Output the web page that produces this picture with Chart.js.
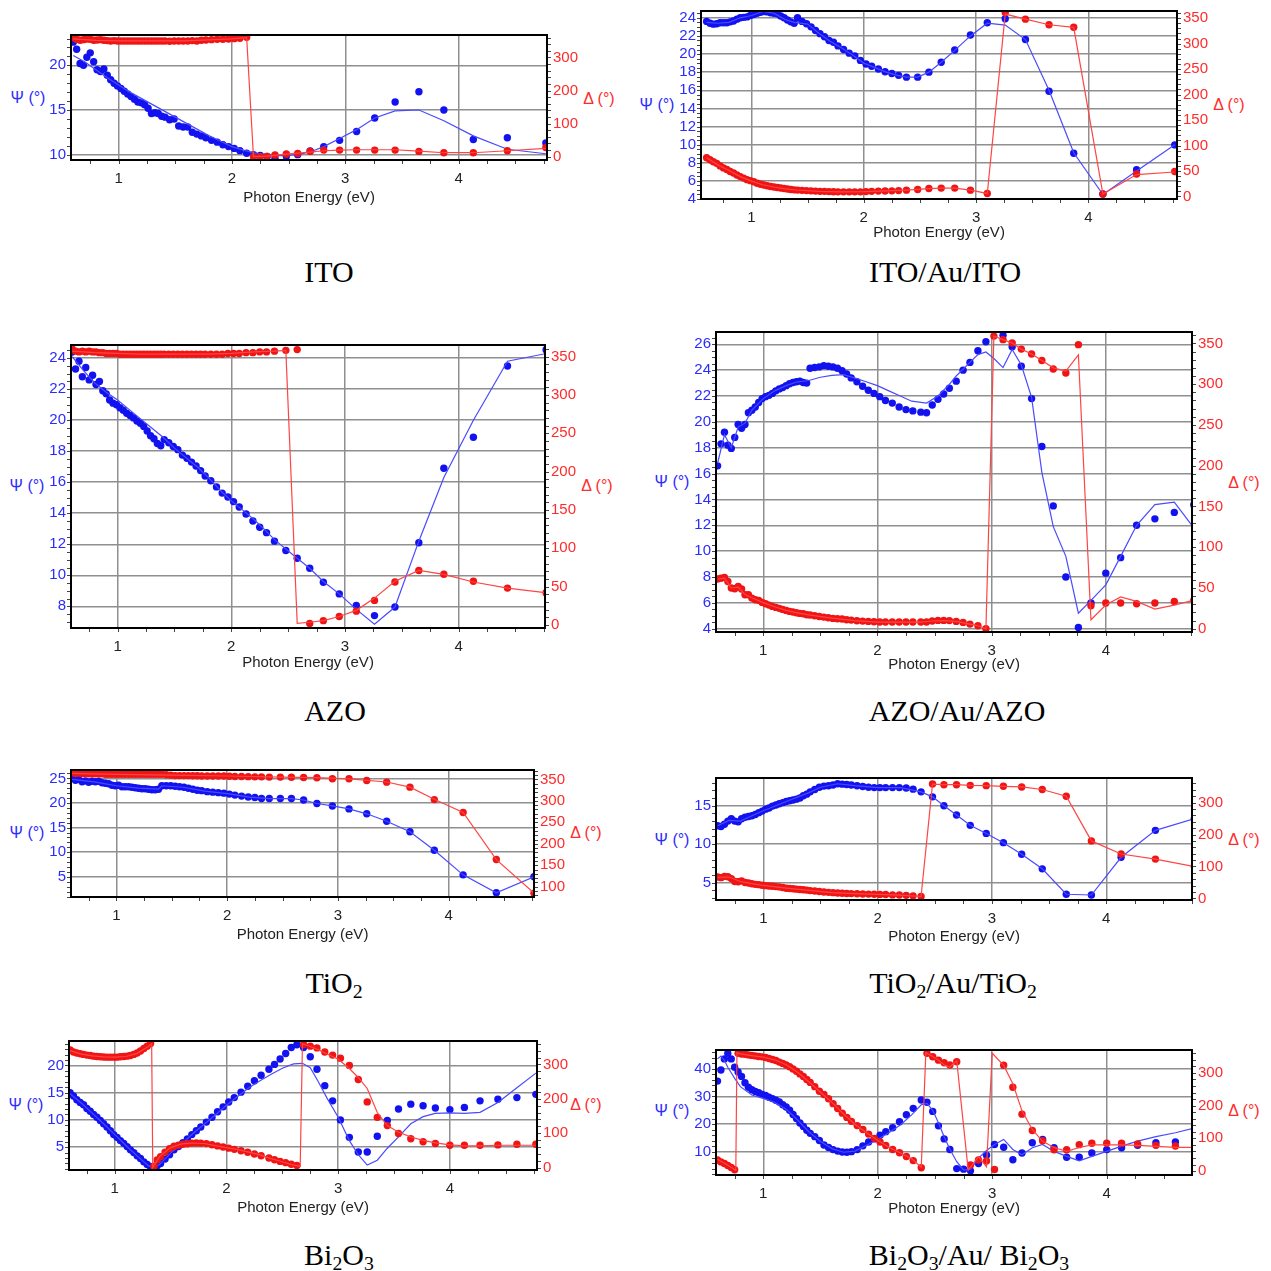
<!DOCTYPE html>
<html>
<head>
<meta charset="utf-8">
<script src="https://cdn.jsdelivr.net/npm/chart.js@4.4.1/dist/chart.umd.min.js"></script>
<style>
body { margin:0; background:#fff; width:1271px; height:1271px; position:relative; overflow:hidden; font-family:"Liberation Sans", Arial, sans-serif; }
canvas { position:absolute; }
.lbl { position:absolute; transform:translate(-50%,-50%); white-space:nowrap; line-height:1; }
.ax { font-size:16px; }
.psi { color:#2b2bff; }
.del { color:#ff2b2b; }
.ttl { font-family:"Liberation Serif", "Times New Roman", serif; font-size:30px; color:#000; }
.ttl sub { font-size:0.66em; line-height:0; vertical-align:-0.25em; }
</style>
</head>
<body>

<div class="lbl ax psi" style="left:28px;top:98px">Ψ (°)</div>
<div class="lbl ax del" style="left:599px;top:99px">Δ (°)</div>
<div class="lbl ttl" style="left:329px;top:272px">ITO</div>

<div class="lbl ax psi" style="left:657px;top:105px">Ψ (°)</div>
<div class="lbl ax del" style="left:1229px;top:105px">Δ (°)</div>
<div class="lbl ttl" style="left:945px;top:272px">ITO/Au/ITO</div>

<div class="lbl ax psi" style="left:27px;top:486px">Ψ (°)</div>
<div class="lbl ax del" style="left:597px;top:486px">Δ (°)</div>
<div class="lbl ttl" style="left:335px;top:711px">AZO</div>

<div class="lbl ax psi" style="left:672px;top:482px">Ψ (°)</div>
<div class="lbl ax del" style="left:1244px;top:483px">Δ (°)</div>
<div class="lbl ttl" style="left:957px;top:711px">AZO/Au/AZO</div>

<div class="lbl ax psi" style="left:27px;top:833px">Ψ (°)</div>
<div class="lbl ax del" style="left:586px;top:833px">Δ (°)</div>
<div class="lbl ttl" style="left:334px;top:983px">TiO<sub>2</sub></div>

<div class="lbl ax psi" style="left:672px;top:840px">Ψ (°)</div>
<div class="lbl ax del" style="left:1244px;top:840px">Δ (°)</div>
<div class="lbl ttl" style="left:953px;top:983px">TiO<sub>2</sub>/Au/TiO<sub>2</sub></div>

<div class="lbl ax psi" style="left:26px;top:1105px">Ψ (°)</div>
<div class="lbl ax del" style="left:586px;top:1105px">Δ (°)</div>
<div class="lbl ttl" style="left:339px;top:1255px">Bi<sub>2</sub>O<sub>3</sub></div>

<div class="lbl ax psi" style="left:672px;top:1111px">Ψ (°)</div>
<div class="lbl ax del" style="left:1244px;top:1111px">Δ (°)</div>
<div class="lbl ttl" style="left:969px;top:1255px">Bi<sub>2</sub>O<sub>3</sub>/Au/ Bi<sub>2</sub>O<sub>3</sub></div>

<script>
// photon energies (eV) of the measured points
const baseE = [0.60,0.63,0.66,0.69,0.72,0.75,0.78,0.81,0.84,0.87,
  0.90,0.93,0.96,0.99,1.02,1.05,1.08,1.11,1.14,1.17,
  1.20,1.23,1.26,1.29,1.32,1.35,1.38,1.41,1.45,1.49,
  1.53,1.57,1.61,1.65,1.69,1.73,1.77,1.82,1.87,1.92,
  1.97,2.02,2.07,2.13,2.19,2.25,2.31,2.38];
const stdHighE = [2.48,2.58,2.69,2.81,2.95,3.10,3.26,3.44,3.65,3.87,4.13,4.43,4.77];
const fineHighE = [2.43,2.48,2.53,2.58,2.63,2.69,2.75,2.81,2.88,2.95,
  3.02,3.10,3.18,3.26,3.35,3.44,3.54,3.65,3.76,3.87,
  4.00,4.13,4.27,4.43,4.60,4.77];
const stdE = baseE.concat(stdHighE);
const fineE = baseE.concat(fineHighE);

// ITO
const itoPsi = [22.6,21.8,20.2,20.0,20.9,21.4,20.4,19.5,19.3,19.6,
  18.9,18.4,18.0,17.7,17.4,17.1,16.8,16.5,16.2,15.9,
  15.8,15.6,15.2,14.6,14.7,14.6,14.3,14.2,13.9,14.0,
  13.2,13.1,13.1,12.5,12.3,12.1,11.9,11.6,11.4,11.1,
  10.9,10.7,10.45,10.15,10.0,9.9,9.8,9.6,
  9.8,10.0,10.4,10.9,11.6,12.6,14.1,15.9,17.05,15.0,11.7,11.9,11.3];
const itoDelta = [360,355,352,354,356,355,352,353,354,352,
  351,350,351,350,350,350,350,350,350,350,
  350,350,350,350,350,350,350,350,349,350,
  350,350,350,351,350,352,353,354,355,355,
  356,357,358,361,0,0,1,5,
  8,10,16,20,20,20,20,20,16,12,12,18,28];
const itoPsiFitE = [0.60,0.70,0.80,0.90,1.00,1.10,1.20,1.30,1.40,1.50,
  1.60,1.70,1.80,1.90,2.00,2.10,2.20,2.30,2.40,2.48,
  2.58,2.69,2.81,2.95,3.10,3.26,3.44,3.65,3.87,4.13,4.43,4.77];
const itoPsiFit = [21.1,20.4,19.5,18.6,17.8,17.0,16.3,15.6,14.9,14.2,
  13.5,12.8,12.1,11.5,10.9,10.5,10.2,10.0,9.9,9.9,
  10.0,10.3,10.9,11.8,12.8,14.1,14.9,15.0,13.8,12.1,10.6,10.1];
const itoDeltaFitE = [0.60,0.80,1.00,1.20,1.40,1.60,1.80,2.00,2.13,2.19,
  2.30,2.40,2.48,2.58,2.69,2.81,2.95,3.10,3.26,3.44,3.65,3.87,4.13,4.43,4.77];
const itoDeltaFit = [356,352,350,350,350,350,353,356,360,0,
  2,5,8,11,14,18,20,21,21,21,17,12,12,18,25];

// ITO/Au/ITO
const itoAuPsi = [23.6,23.4,23.3,23.35,23.45,23.45,23.45,23.55,23.65,23.85,
  24.0,24.05,24.1,24.25,24.35,24.5,24.6,24.7,24.65,24.55,
  24.5,24.45,24.2,24.0,23.75,23.55,23.4,24.0,23.6,23.35,
  23.0,22.6,22.25,21.9,21.5,21.3,20.9,20.5,20.1,19.8,
  19.3,18.9,18.65,18.35,18.05,17.85,17.65,17.45,
  17.45,18.0,19.1,20.45,22.1,23.45,23.9,21.6,15.9,9.05,4.55,7.24,9.97];
const itoAuDelta = [76,72,68,65,60,56,53,49,46,42,
  39,36,33,31,29,26,24,22.5,21,19.5,
  18.5,17.5,16.5,15.5,14.5,13.7,13,12.5,12,11.5,
  11,10.5,10,10,9.5,9.3,9,9,9,9,
  9,9.5,10,10.5,10.8,11,11.5,12.4,
  13.7,15.5,16.4,16.4,12.4,5.9,361,348,337,332,4.6,44,49];
const itoAuPsiFitE = [0.60,0.70,0.80,0.90,1.00,1.10,1.20,1.30,1.38,1.50,
  1.60,1.70,1.80,1.90,2.00,2.10,2.20,2.30,2.38,2.48,
  2.58,2.69,2.81,2.95,3.10,3.26,3.44,3.65,3.87,4.13,4.43,4.77];
const itoAuPsiFit = [23.5,23.4,23.5,24.0,24.25,24.7,24.5,23.8,23.5,23.3,
  22.3,21.4,20.7,19.9,19.0,18.5,18.0,17.65,17.45,17.45,
  18.0,19.1,20.4,22.0,23.4,23.2,21.6,16.0,9.1,4.5,7.1,10.0];
const itoAuDeltaFitE = [0.60,0.70,0.80,0.90,1.00,1.10,1.20,1.30,1.40,1.60,
  1.80,2.00,2.20,2.38,2.48,2.58,2.69,2.81,2.95,3.10,
  3.26,3.44,3.65,3.87,4.13,4.43,4.77];
const itoAuDeltaFit = [76,62,51,39,30,23,18.5,15,12.7,10,
  9,9.3,10.8,12.4,13.7,15.5,16.4,16.4,12.4,5.9,
  358,348,337,332,4.6,43,48];

// AZO
const azoPsi = [24.4,23.3,23.8,22.8,23.4,22.6,22.9,22.3,22.5,21.9,
  21.7,21.3,21.1,21.0,20.8,20.65,20.45,20.3,20.15,19.95,
  19.8,19.6,19.3,19.0,18.8,18.5,18.35,18.75,18.55,18.3,
  18.1,17.75,17.55,17.3,17.05,16.75,16.4,16.1,15.7,15.3,
  15.05,14.75,14.4,13.95,13.5,13.1,12.75,12.2,
  11.6,11.1,10.45,9.55,8.8,8.05,7.4,7.95,12.1,16.9,18.9,23.5,24.55];
const azoDelta = [360,357,356,357,356,357,356,356,355,355,
  354,354,354,354,353,353,353,353,353,353,
  353,353,353,353,353,353,353,353,353,353,
  353,353,353,353,353,353,353,353,353,353,
  354,354,354,355,355,356,356,357,
  358,359,2,5.6,11,18,32,56,71,66,57,48,42];
const azoPsiFitE = [0.60,0.70,0.80,0.90,1.00,1.10,1.20,1.30,1.40,1.50,
  1.60,1.70,1.80,1.90,2.00,2.10,2.20,2.30,2.38,2.48,
  2.58,2.69,2.81,2.95,3.10,3.26,3.44,3.65,3.87,4.13,4.43,4.77];
const azoPsiFit = [24.1,23.2,22.4,21.8,21.3,20.7,20.1,19.5,18.9,18.2,
  17.6,17.0,16.3,15.5,14.8,14.2,13.6,12.9,12.3,11.7,
  11.1,10.45,9.6,8.8,7.8,6.85,7.95,12.2,16.3,20.0,23.8,24.3];
const azoDeltaFitE = [0.60,0.80,1.00,1.20,1.40,1.60,1.80,2.00,2.20,2.38,
  2.48,2.58,2.69,2.81,2.95,3.10,3.26,3.44,3.65,3.87,4.13,4.43,4.77];
const azoDeltaFit = [357,355,354,353,353,353,353,354,356,357,
  358,2,3.5,5.6,11,19,35,57,71,66,56,48,42];

// AZO/Au/AZO
const azoAuPsi = [16.6,18.3,19.2,18.2,17.95,18.8,19.8,19.5,19.8,20.7,
  20.9,21.15,21.5,21.8,21.95,22.05,22.2,22.4,22.55,22.65,
  22.8,22.95,23.05,23.1,23.15,23.05,23.0,24.15,24.2,24.25,
  24.35,24.3,24.25,24.15,23.95,23.7,23.4,23.1,22.75,22.45,
  22.2,21.95,21.65,21.45,21.15,20.95,20.85,20.75,
  20.7,21.3,21.75,22.15,22.6,23.15,24.0,24.6,25.5,26.2,
  null,26.7,25.8,24.3,21.8,18.1,13.5,8.0,4.1,6.0,
  8.3,9.5,12.0,12.5,13.0,13.6];
const azoAuDelta = [61,62,63,58,50,49,52,48.7,41.7,41.7,
  37.6,35.6,34.8,32.3,30.7,29,27.4,26.2,25,23.7,
  22.5,21.3,20.5,19.6,18.8,18.4,17.2,16.8,16,15.1,
  14.3,13.5,12.7,12.3,11.9,11,10.6,9.8,9.4,9,
  8.6,8.2,8.2,8.2,8.2,8.2,8.2,8.2,
  8.2,9.5,10.2,10.2,10,9,7.8,5.7,3.7,0,
  359,354.6,350.5,343,337,329,318.6,313.7,348.5,28.2,
  31.5,31.5,30.7,31.5,33.5,34.8];
const azoAuPsiFitE = [0.60,0.66,0.72,0.78,0.84,0.90,1.00,1.10,1.20,1.30,
  1.40,1.50,1.60,1.70,1.80,1.90,2.00,2.10,2.20,2.30,
  2.43,2.53,2.63,2.69,2.81,2.88,2.95,3.02,3.10,3.18,
  3.26,3.35,3.44,3.54,3.65,3.76,3.87,4.00,4.13,4.27,
  4.43,4.60,4.77];
const azoAuPsiFit = [16.8,19.0,18.0,19.6,19.9,20.9,21.8,22.4,22.8,23.1,
  23.2,23.45,23.6,23.65,23.4,23.1,22.8,22.4,22.0,21.6,
  21.45,22.0,22.9,23.55,24.6,25.2,25.4,24.9,24.2,25.6,
  24.4,21.9,16.1,11.9,9.6,5.2,6.2,7.4,9.6,12.0,
  13.6,13.8,11.8];
const azoAuDeltaFitE = [0.60,0.66,0.72,0.78,0.84,0.90,1.00,1.10,1.20,1.30,
  1.40,1.60,1.80,2.00,2.20,2.38,2.48,2.58,2.69,2.81,
  2.88,2.95,3.02,3.10,3.18,3.26,3.35,3.44,3.54,3.65,
  3.76,3.87,4.00,4.13,4.27,4.43,4.60,4.77];
const azoAuDeltaFit = [61,62,50,51,42,38,32,27,22.5,19.5,
  17,13,10,8.2,8.2,8.2,9.5,10,9,5.7,
  3.7,0,359,354.6,350.5,343,337,329,320,316,
  336,11,29,39,33.5,24,29,35];

// TiO2
const tioPsi = [25.5,24.6,24.8,24.3,24.5,24.2,24.4,24.3,24.4,24.1,
  24.0,23.9,23.6,23.5,23.6,23.3,23.3,23.3,23.2,23.1,
  23.0,22.9,22.9,22.8,22.7,22.7,22.8,23.5,23.5,23.5,
  23.4,23.3,23.2,23.0,22.8,22.6,22.5,22.3,22.2,22.1,
  22.0,21.8,21.6,21.4,21.2,21.1,20.9,20.9,
  20.9,20.9,20.6,19.9,19.4,18.8,17.8,16.3,14.15,10.4,5.4,1.75,5.0];
const tioDelta = [366,364,365,364,364,363,363,363,363,363,
  362,362,362,362,362,362,362,362,362,362,
  362,362,362,362,362,362,362,362,361,360,
  359,359,359,359,358.5,358.5,358,358,358,358,
  358,357.5,357,357,356.5,356,356,355.5,
  355.5,355,354.5,354,351.5,351.5,347.5,343.7,332,303,273,163.5,85];
const tioPsiFitE = [0.60,0.80,1.00,1.20,1.38,1.41,1.60,1.80,2.00,2.20,
  2.38,2.48,2.58,2.69,2.81,2.95,3.10,3.26,3.44,3.65,3.87,4.13,4.43,4.77];
const tioPsiFit = [24.8,24.3,23.5,23.0,22.8,23.5,23.2,22.4,21.9,21.2,
  20.9,20.9,20.9,20.6,19.9,19.4,18.8,17.8,16.3,14.15,10.4,5.4,1.75,5.0];
const tioDeltaFitE = [0.60,1.00,1.50,2.00,2.48,2.81,3.10,3.44,3.65,3.87,4.13,4.43,4.77];
const tioDeltaFit = [364,362,360,358,355.5,354,351.5,344,332,304,273,163,85];

// TiO2/Au/TiO2
const tioAuPsi = [12.4,12.3,12.6,13.0,13.3,13.0,12.9,13.3,13.5,13.6,
  13.7,13.85,14.1,14.3,14.55,14.7,14.95,15.1,15.25,15.4,
  15.55,15.65,15.75,15.85,16.0,16.3,16.5,16.8,17.1,17.4,
  17.55,17.6,17.7,17.85,17.8,17.75,17.7,17.6,17.5,17.4,
  17.35,17.35,17.35,17.35,17.35,17.3,17.15,16.8,
  16.15,15.0,13.8,12.45,11.4,10.2,8.7,6.8,3.5,3.4,8.3,11.8,13.3];
const tioAuDelta = [67,65,69,68,62,53,52,55,50,48,
  46,44,43,41,40,39,38,37,36,34,
  32,31,30,29,28,27,26,24.5,23,21.5,
  20,19,18,17,16,15.5,15,14.5,14,13.5,
  13,12.5,12,11,10.5,9.5,8,6,
  358,356,356,354,353,351,349,341,320,180,139,123,100];
const tioAuPsiFitE = [0.60,0.70,0.80,0.90,1.00,1.20,1.40,1.50,1.65,1.80,
  2.00,2.20,2.38,2.48,2.58,2.69,2.81,2.95,3.10,3.26,
  3.44,3.65,3.87,4.13,4.43,4.77];
const tioAuPsiFit = [12.4,13.1,13.0,13.7,14.35,15.55,16.7,17.4,17.85,17.6,
  17.35,17.35,16.8,16.15,15.0,13.8,12.45,11.4,10.2,8.7,
  6.8,3.5,3.4,8.3,11.8,13.3];
const tioAuDeltaFitE = [0.60,0.70,0.80,0.90,1.00,1.20,1.40,1.60,1.80,2.00,
  2.20,2.38,2.48,2.58,2.69,2.81,2.95,3.10,3.26,3.44,
  3.65,3.87,4.13,4.43,4.77];
const tioAuDeltaFit = [66,67,53,46,40.5,32,25,18,14.7,12.7,
  10.3,6,358,356,356,354,353,351,349,341,
  320,180,139,123,100];

// Bi2O3
const biPsi = [15.0,14.4,13.7,13.2,12.8,12.1,11.6,11.0,10.5,9.9,
  9.3,8.7,8.0,7.3,6.8,6.2,5.7,5.1,4.5,4.0,
  3.4,2.9,2.3,1.8,1.4,1.3,1.6,2.0,2.8,3.6,
  4.5,5.1,5.8,6.5,7.3,8.0,8.7,9.6,10.5,11.5,
  12.4,13.3,14.1,15.1,16.2,17.2,18.2,19.3,
  20.2,21.2,22.2,23.3,23.8,23.3,21.6,19.3,16.3,13.5,
  10.0,6.8,4.1,4.1,7.0,9.9,12.0,12.9,12.6,12.2,
  11.9,12.3,13.5,13.8,14.1,14.7];
const biDelta = [342,336,333,331,329,327,326,324,323,322,
  321.5,321,321,321,321,322,323,324,326,329,
  333,339,346,353,361,4,22,32,45,55,
  62,65,67.8,69.5,71,71.6,71,69.7,66.5,63,
  60,56.5,53,49,44.8,39.5,34.5,28,
  23,18,14.3,9.5,6,358,353,348,336,327,
  318,297,256,191,146,122,99,84,75,70,
  65,65,65,66,68,68];
const biPsiFitE = [0.60,0.70,0.80,0.90,1.00,1.10,1.20,1.30,1.35,1.40,
  1.50,1.60,1.70,1.80,1.90,2.00,2.10,2.20,2.30,2.40,
  2.50,2.60,2.68,2.75,2.82,2.90,3.00,3.10,3.18,3.26,
  3.35,3.44,3.54,3.65,3.76,3.87,4.00,4.13,4.27,4.43,
  4.60,4.77];
const biPsiFit = [14.8,13.1,11.2,9.3,7.3,5.3,3.4,1.6,1.3,1.8,
  3.9,5.6,7.5,9.2,10.9,12.7,14.3,15.9,17.2,18.4,
  19.5,20.3,20.4,19.6,17.1,14.0,10.5,6.2,3.6,1.7,
  2.6,4.8,6.9,9.3,10.6,11.2,11.3,11.2,11.4,13.2,
  15.9,18.6];
const biDeltaFitE = [0.60,0.70,0.80,0.90,1.00,1.10,1.20,1.30,1.33,1.34,
  1.40,1.50,1.60,1.70,1.80,1.90,2.00,2.10,2.20,2.30,
  2.40,2.50,2.60,2.66,2.68,2.75,2.82,2.90,3.00,3.10,
  3.18,3.26,3.35,3.44,3.54,3.65,3.76,3.87,4.00,4.13,
  4.27,4.43,4.60,4.77];
const biDeltaFit = [340,330,325,322,321,323,332,352,360,0,
  32,58,69,71.5,70,64,58,52,45,37,
  26,17,7,4,360,352,343,330,315,288,
  262,230,160,122,103,89,79,72,66,63,
  63,65,65,65];

// Bi2O3/Au/Bi2O3
const biAuPsi = [35.5,39.5,43.5,45.5,43.5,40.5,38.8,37.2,34.9,33.3,
  32.4,31.8,31.3,30.7,30.3,29.7,29.2,28.6,28.0,27.0,
  26.2,25.0,23.5,22.0,20.4,19.2,17.8,16.7,15.5,14.1,
  12.5,11.6,10.85,10.3,10.0,9.9,10.1,10.85,12.2,13.6,
  14.7,16.0,17.3,18.7,20.9,23.4,25.7,28.7,
  27.9,24.6,19.4,14.7,10.9,4.0,3.8,3.2,5.8,8.8,
  12.7,11.7,7.2,9.6,13.3,14.5,11.5,8.1,8.1,9.6,
  10.85,11.5,12.4,13.3,13.6,14.1];
const biAuDelta = [34,28,23,17,11,4,360,358,357,355,
  353.5,352,350,349,347,344,341,338,333,329,
  324,319,312,305,297,289,280,271,258,244,
  234,221,206,191,177,164,152,139,127,113,
  100,89,78,66,56,44.5,32,10,
  360,349.5,339,331,324,334,null,18.6,34,31,
  5,323.6,256,174,124,93,65,65,80.7,85,
  85,85,83,78.6,76.5,73.4];
const biAuPsiFitE = [0.60,0.63,0.66,0.69,0.72,0.75,0.80,0.90,1.00,1.10,
  1.20,1.30,1.40,1.50,1.60,1.70,1.80,1.90,2.00,2.10,
  2.20,2.30,2.38,2.43,2.48,2.53,2.58,2.63,2.69,2.75,
  2.81,2.88,2.95,3.02,3.10,3.18,3.26,3.35,3.44,3.54,
  3.65,3.76,3.87,4.00,4.13,4.27,4.43,4.60,4.77];
const biAuPsiFit = [43.5,44.5,43,40.5,38.5,36.5,33.5,30.5,29.3,27.8,
  25.4,21.5,17.2,13.8,11.2,9.9,10.3,12.3,14.6,17.0,
  19.8,23.5,27.0,27.5,25,20.5,15.5,11,6.5,3.5,
  3.8,7.8,10.5,12.7,14.5,10.9,9.0,11.5,12.7,10.2,
  8.4,6.8,8.4,10.2,12.1,13.9,15.5,16.9,18.7];
const biAuDeltaFitE = [0.60,0.66,0.72,0.76,0.77,0.80,0.90,1.00,1.10,1.20,
  1.30,1.40,1.50,1.60,1.70,1.80,1.90,2.00,2.10,2.20,
  2.30,2.38,2.42,2.48,2.53,2.58,2.63,2.69,2.79,2.88,
  2.95,3.00,3.10,3.18,3.26,3.35,3.44,3.54,3.65,3.76,
  3.87,4.00,4.13,4.27,4.43,4.60,4.77];
const biAuDeltaFit = [36,24,12,2,362,358,353,348,340,325,
  302,272,241,210,175,143,118,94,72,55,
  37,12,362,350,339,324,318,337,3,44,
  13,360,323,267,184,127,91,72,60,72,
  80,80,80,78.6,75.5,72.4,72.4];

const BLUE = '#1212f0', BLUE_LINE = '#4a4aff';
const RED = '#f01414', RED_LINE = '#ff4444';
const GRID = '#8f8f8f';
const PAD_L = 62, PAD_R = 62, PAD_T = 12, PAD_B = 52;
const FONT = '"Liberation Sans", Arial, sans-serif';
const DOT = 3.7;

function pts(xs, ys) {
  return xs.map((x, i) => ({x: x, y: ys[i]}));
}

// box frame and small minor ticks around the plot area
const framePlugin = {
  id: 'frame',
  afterDatasetsDraw(chart, args, opts) {
    const a = chart.chartArea, c = chart.ctx;
    const sx = chart.scales.x, sy = chart.scales.y, sy1 = chart.scales.y1;
    c.save();
    c.strokeStyle = '#444';
    c.lineWidth = 1;
    c.beginPath();
    for (let v = Math.ceil(sx.min / opts.mx) * opts.mx; v <= sx.max; v += opts.mx) {
      const p = Math.round(sx.getPixelForValue(v)) + 0.5;
      c.moveTo(p, a.bottom); c.lineTo(p, a.bottom + 4);
    }
    for (let v = Math.ceil(sy.min / opts.my) * opts.my; v <= sy.max; v += opts.my) {
      const p = Math.round(sy.getPixelForValue(v)) + 0.5;
      c.moveTo(a.left - 4, p); c.lineTo(a.left, p);
    }
    for (let v = Math.ceil(sy1.min / opts.my1) * opts.my1; v <= sy1.max; v += opts.my1) {
      const p = Math.round(sy1.getPixelForValue(v)) + 0.5;
      c.moveTo(a.right, p); c.lineTo(a.right + 4, p);
    }
    c.stroke();
    c.strokeStyle = '#000';
    c.lineWidth = 2;
    c.strokeRect(a.left, a.top, a.right - a.left, a.bottom - a.top);
    c.restore();
  }
};

function drawPanel(p) {
  const [bl, bt, bw, bh] = p.box;
  const cv = document.createElement('canvas');
  cv.width = bw + PAD_L + PAD_R;
  cv.height = bh + PAD_T + PAD_B;
  cv.style.left = (bl - PAD_L) + 'px';
  cv.style.top = (bt - PAD_T) + 'px';
  document.body.appendChild(cv);

  const tickFont = {family: FONT, size: 15};
  new Chart(cv.getContext('2d'), {
    type: 'scatter',
    data: {
      datasets: [
        {data: pts(p.E, p.psi), yAxisID: 'y', pointRadius: DOT, pointBackgroundColor: BLUE,
         pointBorderWidth: 0, order: 3, clip: 0},
        {data: pts(p.psiFitE, p.psiFit), yAxisID: 'y', showLine: true, pointRadius: 0,
         borderColor: BLUE_LINE, borderWidth: 1.2, order: 2, clip: 0},
        {data: pts(p.E, p.delta), yAxisID: 'y1', pointRadius: DOT, pointBackgroundColor: RED,
         pointBorderWidth: 0, order: 1, clip: 0},
        {data: pts(p.deltaFitE, p.deltaFit), yAxisID: 'y1', showLine: true, pointRadius: 0,
         borderColor: RED_LINE, borderWidth: 1.2, order: 0, clip: 0}
      ]
    },
    options: {
      responsive: false,
      animation: false,
      events: [],
      layout: {padding: {top: PAD_T, left: 0, right: 0, bottom: 0}},
      plugins: {
        legend: {display: false},
        tooltip: {enabled: false},
        frame: {mx: 0.25, my: p.psiR[3], my1: p.delR[3]}
      },
      scales: {
        x: {
          type: 'linear', min: p.x[0], max: p.x[1],
          ticks: {stepSize: 1, includeBounds: false, autoSkip: false, maxRotation: 0,
                  color: '#222', font: tickFont, padding: 10},
          grid: {color: GRID, lineWidth: 1.5, drawTicks: false},
          border: {display: false},
          title: {display: true, text: 'Photon Energy (eV)', color: '#222',
                  font: {family: FONT, size: 15}, padding: {top: 0, bottom: PAD_B - 9 - p.gap}},
          afterFit: s => { s.height = PAD_B; s.paddingLeft = 0; s.paddingRight = 0; }
        },
        y: {
          position: 'left', min: p.psiR[0], max: p.psiR[1],
          ticks: {stepSize: p.psiR[2], includeBounds: false, autoSkip: false,
                  color: '#2b2bff', font: tickFont, padding: 5},
          grid: {color: GRID, lineWidth: 1.5, drawTicks: false},
          border: {display: false},
          afterFit: s => { s.width = PAD_L; s.paddingTop = 0; s.paddingBottom = 0; }
        },
        y1: {
          position: 'right', min: p.delR[0], max: p.delR[1],
          ticks: {stepSize: p.delR[2], includeBounds: false, autoSkip: false,
                  color: '#ff2b2b', font: tickFont, padding: 6},
          grid: {display: false, drawTicks: false},
          border: {display: false},
          afterFit: s => { s.width = PAD_R; s.paddingTop = 0; s.paddingBottom = 0; }
        }
      }
    },
    plugins: [framePlugin]
  });
}

const panels = [
  {box: [71, 35, 476, 125], x: [0.58, 4.78], psiR: [9.4, 23.4, 5, 1], delR: [-10, 368, 100, 20], gap: 38,
   E: stdE, psi: itoPsi, delta: itoDelta, psiFitE: itoPsiFitE, psiFit: itoPsiFit,
   deltaFitE: itoDeltaFitE, deltaFit: itoDeltaFit},
  {box: [701, 11, 476, 188], x: [0.55, 4.79], psiR: [4, 24.75, 2, 0.5], delR: [-5, 364, 50, 10], gap: 34,
   E: stdE, psi: itoAuPsi, delta: itoAuDelta, psiFitE: itoAuPsiFitE, psiFit: itoAuPsiFit,
   deltaFitE: itoAuDeltaFitE, deltaFit: itoAuDeltaFit},
  {box: [71, 345, 474, 283], x: [0.59, 4.76], psiR: [6.6, 24.85, 2, 0.5], delR: [-4, 365, 50, 10], gap: 35,
   E: stdE, psi: azoPsi, delta: azoDelta, psiFitE: azoPsiFitE, psiFit: azoPsiFit,
   deltaFitE: azoDeltaFitE, deltaFit: azoDeltaFit},
  {box: [716, 332, 476, 300], x: [0.586, 4.755], psiR: [3.75, 26.95, 2, 0.5], delR: [-4, 364, 50, 10], gap: 33,
   E: fineE, psi: azoAuPsi, delta: azoAuDelta, psiFitE: azoAuPsiFitE, psiFit: azoAuPsiFit,
   deltaFitE: azoAuDeltaFitE, deltaFit: azoAuDeltaFit},
  {box: [71, 770, 463, 127], x: [0.59, 4.77], psiR: [0.9, 26.7, 5, 1], delR: [76, 372, 50, 10], gap: 38,
   E: stdE, psi: tioPsi, delta: tioDelta, psiFitE: tioPsiFitE, psiFit: tioPsiFit,
   deltaFitE: tioDeltaFitE, deltaFit: tioDeltaFit},
  {box: [716, 778, 476, 122], x: [0.586, 4.75], psiR: [2.75, 18.6, 5, 1], delR: [-5, 377, 100, 20], gap: 37,
   E: stdE, psi: tioAuPsi, delta: tioAuDelta, psiFitE: tioAuPsiFitE, psiFit: tioAuPsiFit,
   deltaFitE: tioAuDeltaFitE, deltaFit: tioAuDeltaFit},
  {box: [69, 1041, 468, 129], x: [0.59, 4.78], psiR: [0.8, 24.5, 5, 1], delR: [-7, 368, 100, 20], gap: 38,
   E: fineE, psi: biPsi, delta: biDelta, psiFitE: biPsiFitE, psiFit: biPsiFit,
   deltaFitE: biDeltaFitE, deltaFit: biDeltaFit},
  {box: [716, 1050, 476, 125], x: [0.587, 4.745], psiR: [1.7, 46.7, 10, 2], delR: [-12, 370, 100, 20], gap: 34,
   E: fineE, psi: biAuPsi, delta: biAuDelta, psiFitE: biAuPsiFitE, psiFit: biAuPsiFit,
   deltaFitE: biAuDeltaFitE, deltaFit: biAuDeltaFit}
];

panels.forEach(drawPanel);
</script>
</body>
</html>
